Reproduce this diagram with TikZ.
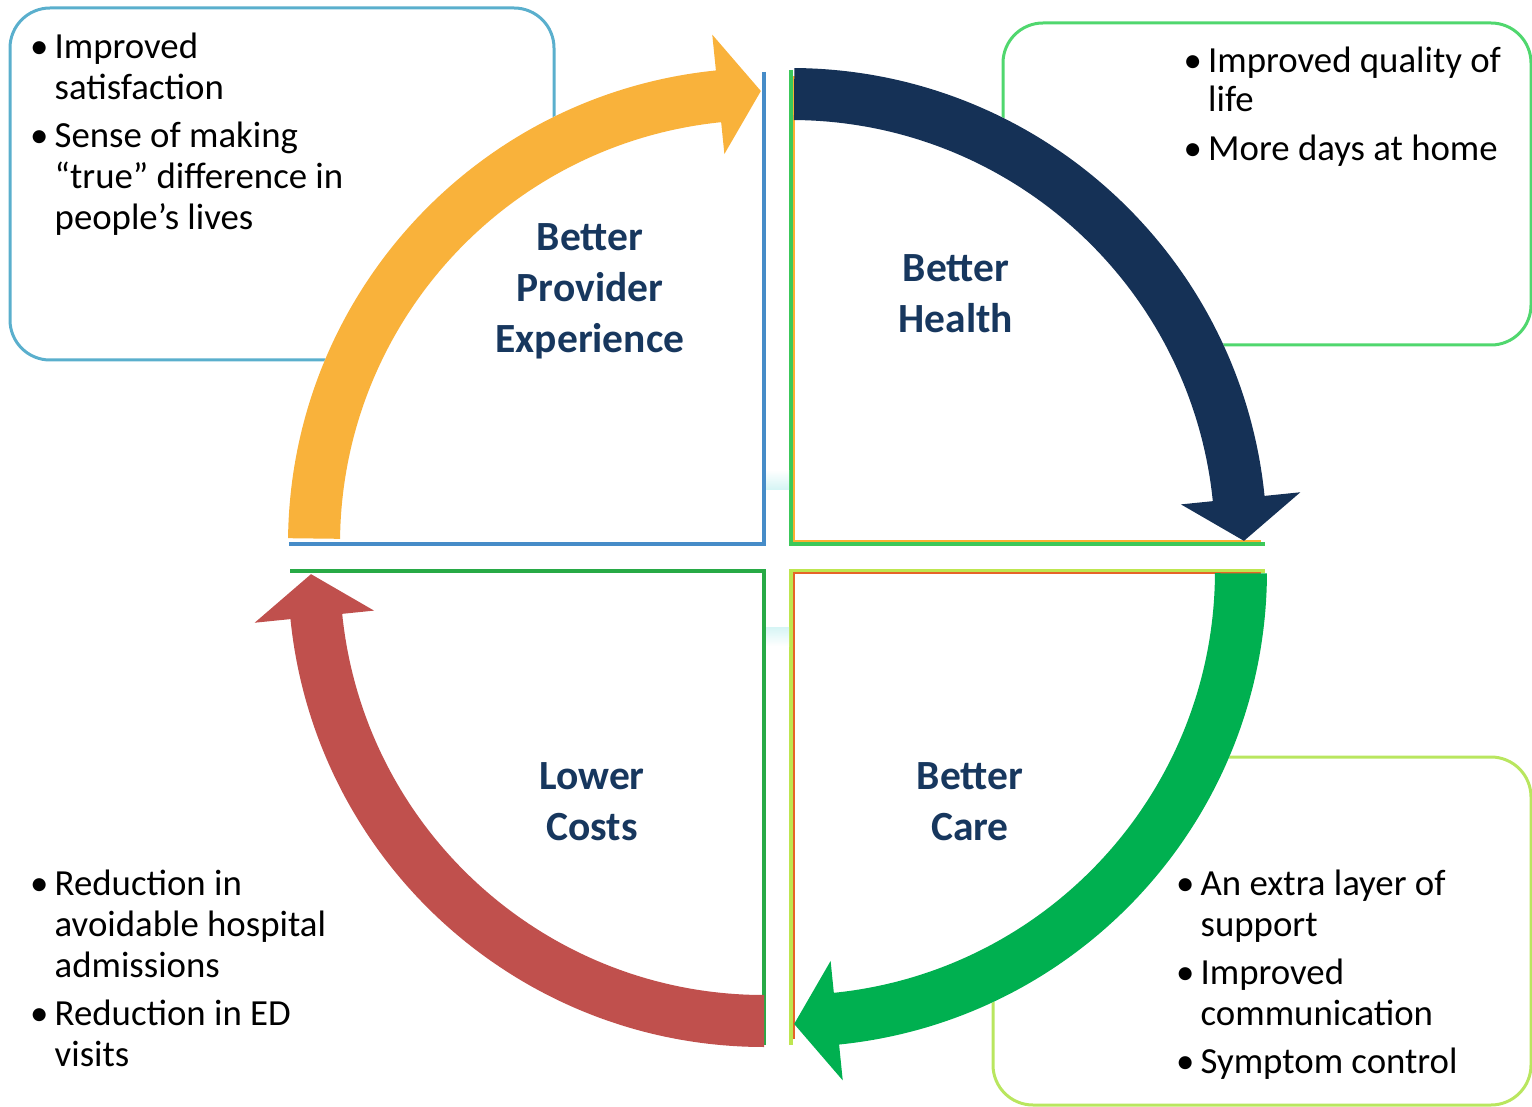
\documentclass[tikz,border=0pt]{standalone}
\usepackage{fontspec}
\setmainfont{Carlito}
\usepackage{tikz}
\usetikzlibrary{calc}
\definecolor{arrorange}{RGB}{249,178,59}
\definecolor{arrnavy}{RGB}{21,49,86}
\definecolor{arrgreen}{RGB}{0,176,80}
\definecolor{arrred}{RGB}{192,80,77}
\definecolor{headcol}{RGB}{23,55,94}
\definecolor{tlline}{RGB}{70,140,200}
\definecolor{trline}{RGB}{60,200,90}
\definecolor{trinner}{RGB}{250,175,50}
\definecolor{blline}{RGB}{40,170,70}
\definecolor{brline}{RGB}{190,230,80}
\definecolor{brinner}{RGB}{230,100,40}
\definecolor{tlbox}{RGB}{90,175,205}
\definecolor{trbox}{RGB}{80,215,110}
\definecolor{brbox}{RGB}{185,230,95}
\tikzset{
  sidebox/.style={line width=3pt, rounded corners=40pt},
  quarter/.style={line width=4pt},
  bodytext/.style={font=\fontsize{36.8}{41}\selectfont, align=left, inner sep=0pt, anchor=north west},
  headtext/.style={font=\bfseries\fontsize{41.5}{51}\selectfont, align=center, text=headcol, inner sep=0pt, anchor=north}
}
\newcommand{\bul}{\makebox[24.5pt][l]{\textbullet}}
\newcommand{\ind}{\hspace*{24.5pt}}
% thick curved arrow: centre, start angle, end angle, colour
\newcommand{\cyclearrow}[4]{%
  \fill[#4] ($(#1)+(#2:476pt)$) arc[start angle=#2, end angle={#3+5.8}, radius=476pt]
    -- ($(#1)+({#3+5.8}:512pt)$) -- ($(#1)+({#3+0.4}:453pt)$)
    -- ($(#1)+({#3+5.8}:392pt)$) -- ($(#1)+({#3+5.8}:424pt)$)
    arc[start angle={#3+5.8}, end angle=#2, radius=424pt] -- cycle;}

\begin{document}
\begin{tikzpicture}[x=1pt, y=-1pt]
    \useasboundingbox (0,0) rectangle (1532,1107);

    % 1. Callout boxes behind the quarters
    \draw[sidebox, draw=tlbox] (10,8) rectangle (554,360);
    \draw[sidebox, draw=trbox] (1003,23) rectangle (1531,345);
    \draw[sidebox, draw=brbox] (993,757) rectangle (1531,1105);

    % 2. Corners of the four quarters
    \coordinate (TL) at (764,544);
    \coordinate (TR) at (791,544);
    \coordinate (BL) at (764,571);
    \coordinate (BR) at (791,571);

    % 3. The quarters: white discs cut in four, edges on the straight sides
    \fill[white] (TL) -- ++(180:476pt) arc[start angle=180, end angle=90, radius=476pt] -- cycle;
    \fill[white] (TR) -- ++(90:476pt) arc[start angle=90, end angle=0, radius=476pt] -- cycle;
    \fill[white] (BL) -- ++(180:476pt) arc[start angle=180, end angle=270, radius=476pt] -- cycle;
    \fill[white] (BR) -- ++(0:476pt) arc[start angle=0, end angle=-90, radius=476pt] -- cycle;
    \draw[quarter, tlline] ($(TL)+(0,-472)$) -- (TL) -- ($(TL)+(-475,0)$);
    \draw[quarter, trline] ($(TR)+(0,-474)$) -- (TR) -- ($(TR)+(474,0)$);
    \draw[trinner, line width=2pt] ($(TR)+(3,-468)$) -- ($(TR)+(3,-3)$) -- ($(TR)+(470,-3)$);
    \draw[quarter, blline] ($(BL)+(0,474)$) -- (BL) -- ($(BL)+(-474,0)$);
    \draw[quarter, brline] ($(BR)+(0,474)$) -- (BR) -- ($(BR)+(474,0)$);
    \draw[brinner, line width=2pt] ($(BR)+(3,468)$) -- ($(BR)+(3,2)$) -- ($(BR)+(470,2)$);

    % small links between the quarters
    \shade[top color=white, bottom color=gray!40!cyan!20] (766,470) rectangle (789,489);
    \shade[top color=gray!40!cyan!20, bottom color=white] (766,627) rectangle (789,646);

    % 4. The four arrows of the cycle
    \cyclearrow{TL}{179.3}{90}{arrorange}
    \cyclearrow{TR}{89.6}{0}{arrnavy}
    \cyclearrow{BR}{-0.3}{-90}{arrgreen}
    \cyclearrow{BL}{-90}{-180}{arrred}

    % 5. Quarter titles
    \node[headtext] (provider) at (590,214.3) {\strut Better\\Provider\\Experience};
    \node[headtext] (health) at (956,245.3) {\strut Better\\Health};
    \node[headtext] (costs) at (592,753.3) {\strut Lower\\Costs};
    \node[headtext] (care) at (970,753.3) {\strut Better\\Care};

    % 6. Bullet notes
    \node[bodytext] (tlnote) at (30,29.3) {\strut\bul Improved\\\ind satisfaction\\[7pt]\bul Sense of making\\\ind “true” difference in\\\ind people’s lives};
    \node[bodytext, font=\fontsize{36.8}{39}\selectfont] (trnote) at (1183.5,44.7) {\strut\bul Improved quality of\\\ind life\\[10pt]\bul More days at home};
    \node[bodytext] (blnote) at (30,866.3) {\strut\bul Reduction in\\\ind avoidable hospital\\\ind admissions\\[7pt]\bul Reduction in ED\\\ind visits};
    \node[bodytext] (brnote) at (1176,866.3) {\strut\bul An extra layer of\\\ind support\\[7pt]\bul Improved\\\ind communication\\[7pt]\bul Symptom control};
\end{tikzpicture}
\end{document}
